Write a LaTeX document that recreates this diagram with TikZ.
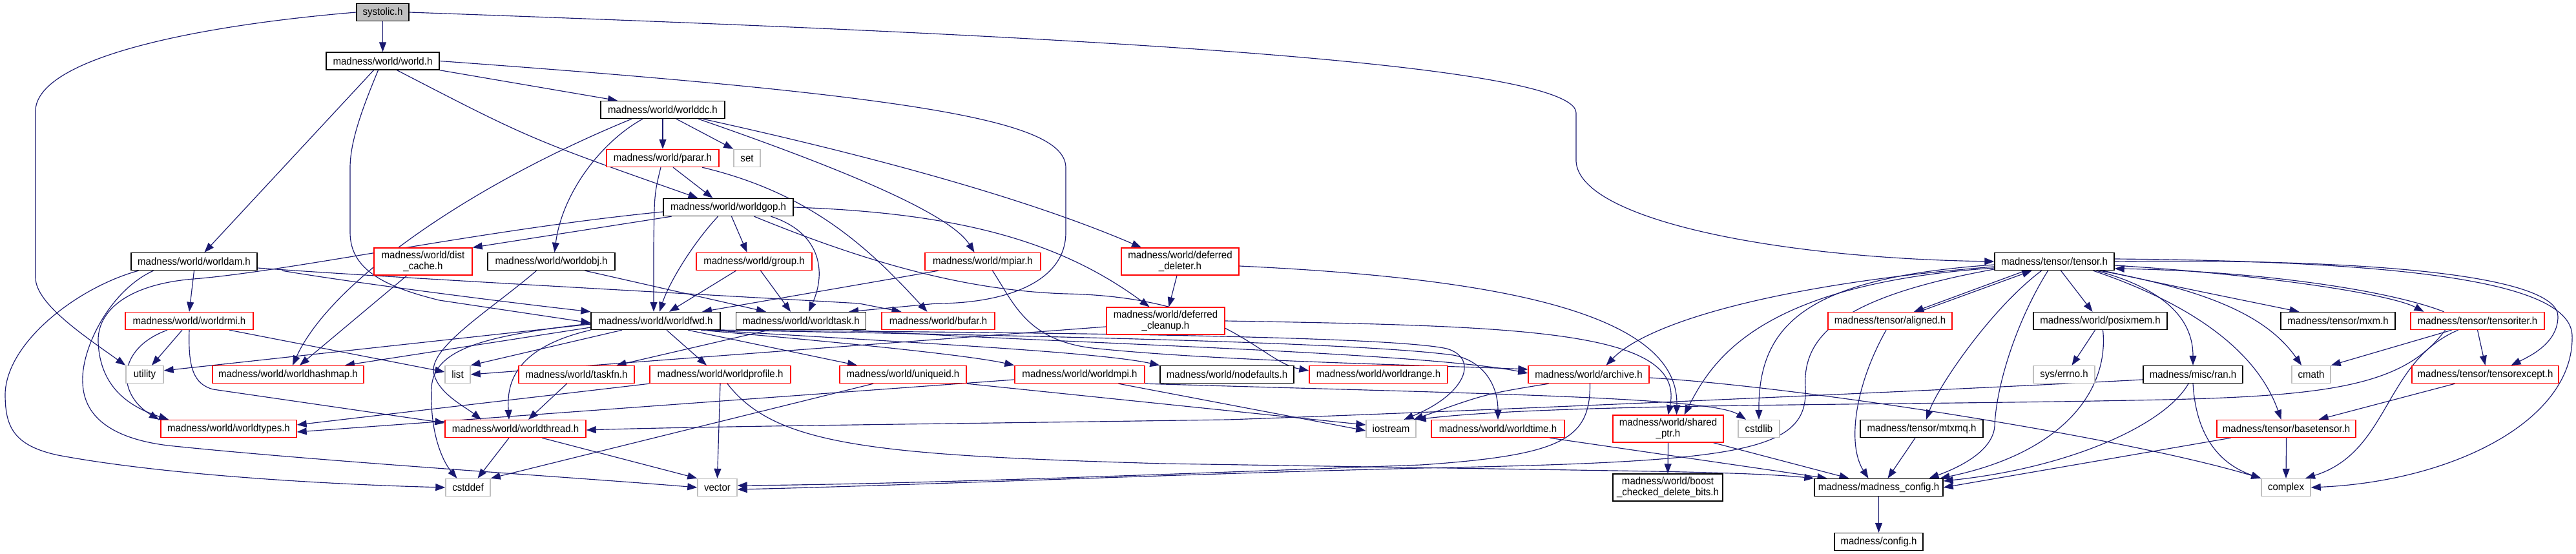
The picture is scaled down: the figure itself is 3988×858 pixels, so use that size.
\documentclass[tikz,border=0pt]{standalone}
\usepackage{fontspec}
\setmainfont{Liberation Sans}[FakeStretch=0.94]
\usetikzlibrary{arrows.meta,backgrounds}
\definecolor{edgec}{HTML}{191970}
\definecolor{redb}{HTML}{FF0000}
\definecolor{grayb}{HTML}{BFBFBF}
\begin{document}
\begin{tikzpicture}[x=1pt,y=-1pt,
  box/.style={draw, line width=1.4pt, fill=white, inner sep=0pt, minimum height=27pt, align=center, font=\fontsize{16}{16.5}\selectfont},
  nb/.style={box, draw=black},
  nr/.style={box, draw=redb},
  ng/.style={box, draw=grayb},
  two/.style={minimum height=42pt},
  lnk/.style={draw=edgec, line width=1.15pt, -{Triangle[length=15pt,width=11pt]}}]
\useasboundingbox (0,0) rectangle (3988,858);
% row 1-5
\node[nb, fill=grayb, minimum width=81pt] (S) at (592.5,19) {systolic.h};
\node[nb, minimum width=175pt] (W) at (592.5,94.5) {madness/world/world.h};
\node[nb, minimum width=192pt] (DC) at (1026,170) {madness/world/worlddc.h};
\node[nr, minimum width=174pt] (P) at (1026,245) {madness/world/parar.h};
\node[ng, minimum width=41pt] (SET) at (1156.5,245) {set};
\node[nb, minimum width=201pt] (G) at (1127.5,321) {madness/world/worldgop.h};
% row 405
\node[nb, minimum width=195pt] (AM) at (300.5,405) {madness/world/worldam.h};
\node[nr, two, minimum width=152pt] (DCA) at (655,405) {madness/world/dist\\\_cache.h};
\node[nb, minimum width=197pt] (OBJ) at (853.5,405) {madness/world/worldobj.h};
\node[nr, minimum width=179pt] (GRP) at (1167.5,405) {madness/world/group.h};
\node[nr, minimum width=179pt] (MPIAR) at (1521.5,405) {madness/world/mpiar.h};
\node[nr, two, minimum width=182pt] (DD) at (1827,405) {madness/world/deferred\\\_deleter.h};
\node[nb, minimum width=185pt] (TEN) at (3180.5,405) {madness/tensor/tensor.h};
% row 497
\node[nr, minimum width=198pt] (RMI) at (293,497) {madness/world/worldrmi.h};
\node[nb, minimum width=200pt] (F) at (1015,497) {madness/world/worldfwd.h};
\node[nb, minimum width=201pt] (TASK) at (1240,497) {madness/world/worldtask.h};
\node[nr, minimum width=175pt] (BUF) at (1452.5,497) {madness/world/bufar.h};
\node[nr, two, minimum width=183pt] (DCL) at (1804.5,497) {madness/world/deferred\\\_cleanup.h};
\node[nr, minimum width=192pt] (ALI) at (2926,497) {madness/tensor/aligned.h};
\node[nb, minimum width=207pt] (POS) at (3251.5,497) {madness/world/posixmem.h};
\node[nb, minimum width=177pt] (MXM) at (3619.5,497) {madness/tensor/mxm.h};
\node[nr, minimum width=207pt] (TIT) at (3835.5,497) {madness/tensor/tensoriter.h};
% row 580
\node[ng, minimum width=58pt] (UT) at (224,580) {utility};
\node[nr, minimum width=234pt] (HM) at (446,580) {madness/world/worldhashmap.h};
\node[ng, minimum width=39pt] (LIST) at (708.5,580) {list};
\node[nr, minimum width=179pt] (TF) at (892.5,580) {madness/world/taskfn.h};
\node[nr, minimum width=218pt] (PROF) at (1115,580) {madness/world/worldprofile.h};
\node[nr, minimum width=196pt] (UID) at (1398,580) {madness/world/uniqueid.h};
\node[nr, minimum width=201pt] (MPI) at (1671.5,580) {madness/world/worldmpi.h};
\node[nb, minimum width=207pt] (NDF) at (1899.5,580) {madness/world/nodefaults.h};
\node[nr, minimum width=214pt] (WR) at (2134,580) {madness/world/worldrange.h};
\node[nr, minimum width=187pt] (AR) at (2459.5,580) {madness/world/archive.h};
\node[ng, minimum width=95pt] (ERR) at (3195.5,580) {sys/errno.h};
\node[nb, minimum width=154pt] (RAN) at (3395,580) {madness/misc/ran.h};
\node[ng, minimum width=60pt] (CM) at (3578,580) {cmath};
\node[nr, minimum width=227pt] (TEX) at (3847.5,580) {madness/tensor/tensorexcept.h};
% row 664
\node[nr, minimum width=210pt] (TY) at (354,664) {madness/world/worldtypes.h};
\node[nr, minimum width=218pt] (TH) at (798,664) {madness/world/worldthread.h};
\node[ng, minimum width=77pt] (IOS) at (2153.5,664) {iostream};
\node[nr, minimum width=206pt] (WT) at (2319,664) {madness/world/worldtime.h};
\node[nr, two, minimum width=171pt] (SP) at (2582.5,664) {madness/world/shared\\\_ptr.h};
\node[ng, minimum width=64pt] (CSL) at (2723,664) {cstdlib};
\node[nb, minimum width=190pt] (MTX) at (2975,664) {madness/tensor/mtxmq.h};
\node[nr, minimum width=215pt] (BT) at (3539.5,664) {madness/tensor/basetensor.h};
% row 755
\node[ng, minimum width=69pt] (CD) at (724.5,755) {cstddef};
\node[ng, minimum width=61pt] (VEC) at (1110.5,755) {vector};
\node[nb, two, minimum width=170pt] (BOOST) at (2582,755) {madness/world/boost\\\_checked\_delete\_bits.h};
\node[nb, minimum width=199pt] (MC) at (2908.5,755) {madness/madness\_config.h};
\node[ng, minimum width=76pt] (CPX) at (3539,755) {complex};
\node[nb, minimum width=137pt] (CONF) at (2908.5,839) {madness/config.h};

\begin{scope}[on background layer]
\fill[white] (0,0) rectangle (3988,858);
% systolic
\draw[lnk] (S.south) -- (W.north);
\draw[lnk] (S.west) .. controls (300,40) and (60,90) .. (55,170) -- (55,430) .. controls (55,470) and (130,520) .. (UT.north west);
\draw[lnk] (S.east) .. controls (1500,50) and (2440,90) .. (2440,175) -- (2440,250) .. controls (2445,340) and (2750,400) .. (TEN.west);
% world.h
\draw[lnk] ([xshift=-14pt]W.south) -- ([xshift=16pt]AM.north);
\draw[lnk] ([xshift=-7pt]W.south) .. controls (560,170) and (542,220) .. (542,260) -- (542,360) .. controls (542,420) and (600,445) .. (680,465) -- ([yshift=-3pt]F.west);
\draw[lnk] ([xshift=22pt]W.south) .. controls (820,215) .. ([xshift=-47pt]G.north);
\draw[lnk] (W.south east) -- ([xshift=-70pt]DC.north);
\draw[lnk] (W.east) .. controls (1450,150) and (1650,190) .. (1650,260) -- (1650,360) .. controls (1650,440) and (1550,470) .. (1450,470) -- ([xshift=74pt]TASK.north);
% worlddc
\draw[lnk] ([xshift=-48pt]DC.south) .. controls (720,290) and (510,440) .. ([xshift=7pt]HM.north);
\draw[lnk] ([xshift=-31pt]DC.south) .. controls (930,220) and (870,300) .. ([xshift=5pt]OBJ.north);
\draw[lnk] (DC.south) -- (P.north);
\draw[lnk] ([xshift=21pt]DC.south) -- (SET.north west);
\draw[lnk] ([xshift=55pt]DC.south) .. controls (1300,260) and (1470,330) .. ([xshift=-13pt]MPIAR.north);
\draw[lnk] ([xshift=62pt]DC.south) .. controls (1250,220) and (1550,290) .. ([xshift=-60pt]DD.north);
% parar
\draw[lnk] ([xshift=-3pt]P.south) .. controls (1013,300) .. (1012,380) -- ([xshift=-3pt]F.north);
\draw[lnk] ([xshift=16pt]P.south) -- ([xshift=-24pt]G.north);
\draw[lnk] ([xshift=61pt]P.south) .. controls (1260,300) and (1350,390) .. ([xshift=-17pt]BUF.north);
% worldgop
\draw[lnk] ([xshift=-88pt]G.south) -- (DCA.north east);
\draw[lnk] ([xshift=-16pt]G.south) .. controls (1070,380) and (1035,440) .. ([xshift=6pt]F.north);
\draw[lnk] ([xshift=5pt]G.south) -- ([xshift=-11pt]GRP.north);
\draw[lnk] ([xshift=66pt]G.south) .. controls (1270,360) and (1280,420) .. ([xshift=12pt]TASK.north);
\draw[lnk] (G.east) .. controls (1500,330) and (1650,380) .. ([xshift=-25pt]DCL.north);
\draw[lnk] ([yshift=-7pt]G.west) .. controls (750,355) and (450,420) .. (300,432) .. controls (200,440) and (150,480) .. (152,530) .. controls (155,600) and (200,630) .. ([xshift=-93pt]TY.north);
\draw[lnk] ([xshift=40pt]G.south) .. controls (1350,410) and (1500,450) .. (1650,455) .. controls (1900,460) and (1950,560) .. ([yshift=6pt]WR.west);
% worldam
\draw[lnk] (AM.south) -- (RMI.north);
\draw[lnk] ([xshift=-86pt]AM.south) .. controls (120,445) and (10,530) .. (8,610) .. controls (8,660) and (20,690) .. (90,705) .. controls (250,735) and (500,750) .. (CD.west);
\draw[lnk] ([xshift=-63pt]AM.south) .. controls (170,450) and (125,540) .. (128,593) .. controls (130,650) and (180,680) .. (260,690) .. controls (500,715) and (900,740) .. (VEC.west);
\draw[lnk] ([yshift=-10pt]AM.east) .. controls (600,430) and (1250,465) .. (1330,470) -- ([xshift=-57pt]BUF.north);
\draw[lnk] ([xshift=136pt]AM.south) .. controls (560,440) and (800,470) .. (F.north west);
% dist_cache, worldobj, group, mpiar
\draw[lnk] ([xshift=-25pt]DCA.south) -- ([xshift=18pt]HM.north);
\draw[lnk] ([xshift=52pt]OBJ.south) -- ([xshift=-54pt]TASK.north);
\draw[lnk] ([xshift=-23pt]OBJ.south) .. controls (760,480) and (660,540) .. (672,580) .. controls (680,610) and (720,630) .. ([xshift=-53pt]TH.north);
\draw[lnk] ([xshift=-28pt]GRP.south) -- ([xshift=21pt]F.north);
\draw[lnk] ([xshift=10pt]GRP.south) -- ([xshift=-16pt]TASK.north);
\draw[lnk] ([xshift=-69pt]MPIAR.south) .. controls (1380,432) .. ([xshift=72pt]F.north);
\draw[lnk] ([xshift=15pt]MPIAR.south) .. controls (1570,470) and (1590,530) .. (1700,540) .. controls (1900,560) and (2200,565) .. ([yshift=8pt]AR.west);
% deferred
\draw[lnk] ([xshift=-5pt]DD.south) -- ([xshift=5pt]DCL.north);
\draw[lnk] ([yshift=-7pt]DD.east) .. controls (2300,430) and (2600,480) .. ([xshift=13pt]SP.north);
\draw[lnk] (DCL.east) .. controls (2350,505) and (2610,510) .. (SP.north);
\draw[lnk] ([yshift=-9pt]DCL.west) -- (LIST.east);
% worldrmi
\draw[lnk] ([xshift=-34pt]RMI.south) .. controls (180,540) and (180,610) .. ([xshift=-108pt]TY.north);
\draw[lnk] ([xshift=-11pt]RMI.south) -- ([xshift=11pt]UT.north);
\draw[lnk] (RMI.south) .. controls (291,570) and (300,595) .. (330,603) -- ([yshift=9pt]TH.west);
\draw[lnk] ([xshift=62pt]RMI.south) -- ([yshift=4pt]LIST.west);
% worldfwd
\draw[lnk] ([yshift=-5pt]F.west) -- ([yshift=6pt]UT.east);
\draw[lnk] ([yshift=-10pt]F.west) -- ([xshift=88pt]HM.north);
\draw[lnk] ([xshift=-52pt]F.south) -- (LIST.north east);
\draw[lnk] (F.south west) .. controls (790,540) and (785,600) .. ([xshift=-10pt]TH.north);
\draw[lnk] ([yshift=-4pt]F.west) .. controls (750,520) and (672,540) .. (668,600) .. controls (665,680) and (690,720) .. ([xshift=-17pt]CD.north);
\draw[lnk] ([xshift=17pt]F.south) -- ([xshift=-21pt]PROF.north);
\draw[lnk] ([xshift=50pt]F.south) -- ([xshift=-71pt]UID.north);
\draw[lnk] ([xshift=70pt]F.south) .. controls (1300,530) and (1500,550) .. (MPI.north west);
\draw[lnk] ([xshift=80pt]F.south) .. controls (1400,530) and (1700,545) .. (NDF.north west);
\draw[lnk] ([xshift=90pt]F.south) .. controls (1600,515) and (2150,520) .. (2240,540) .. controls (2290,555) and (2270,610) .. ([xshift=20pt]IOS.north);
\draw[lnk] (F.south east) .. controls (1600,520) and (2100,530) .. (2250,550) .. controls (2300,560) and (2319,600) .. (WT.north);
% worldtask
\draw[lnk] ([xshift=-50pt]TASK.south) -- ([xshift=62pt]TF.north);
\draw[lnk] ([xshift=80pt]TASK.south) .. controls (1600,530) and (2200,545) .. ([yshift=2pt]AR.west);
% row 580 sources
\draw[lnk] ([xshift=-15pt]TF.south) -- ([xshift=20pt]TH.north);
\draw[lnk] (PROF.south west) -- ([yshift=6pt]TY.east);
\draw[lnk] (PROF.south) -- (VEC.north);
\draw[lnk] ([xshift=11pt]PROF.south) .. controls (1200,690) and (1350,705) .. (1800,718) -- (2500,729) .. controls (2700,732) and (2760,736) .. (MC.north west);
\draw[lnk] ([xshift=-46pt]UID.south) -- (CD.north east);
\draw[lnk] (UID.south east) -- ([yshift=6pt]IOS.west);
\draw[lnk] ([yshift=-8pt]MPI.west) -- ([yshift=-5pt]TY.east);
\draw[lnk] ([xshift=60pt]MPI.south) -- ([yshift=-3pt]IOS.west);
\draw[lnk] (MPI.south east) .. controls (2300,610) and (2650,615) .. ([xshift=-20pt]CSL.north);
\draw[lnk] ([xshift=-10pt]TH.south) -- ([xshift=15pt]CD.north);
\draw[lnk] ([xshift=41pt]TH.south) -- (VEC.north west);
% archive
\draw[lnk] ([xshift=-62pt]AR.south) .. controls (2300,610) .. ([xshift=35pt]IOS.north);
\draw[lnk] ([xshift=2pt]AR.south) .. controls (2462,680) and (2420,705) .. (2200,720) .. controls (1800,735) and (1400,750) .. ([yshift=3pt]VEC.east);
\draw[lnk] ([yshift=-5pt]AR.east) .. controls (2800,600) and (3300,680) .. (CPX.north west);
\draw[lnk] ([xshift=80pt]WT.south) -- ([xshift=-80pt]MC.north);
\draw[lnk] (SP.south) -- (BOOST.north);
\draw[lnk] ([xshift=70pt]SP.south) -- ([xshift=-46pt]MC.north);
% tensor
\draw[lnk] ([xshift=-45pt]TEN.south) -- ([xshift=37pt]ALI.north);
\draw[lnk] ([xshift=45pt]ALI.north) -- ([xshift=-35pt]TEN.south);
\draw[lnk] ([xshift=10pt]TEN.south) -- ([xshift=-12pt]POS.north);
\draw[lnk] ([xshift=75pt]TEN.south) .. controls (3350,440) .. ([xshift=-60pt]MXM.north);
\draw[lnk] ([yshift=-6pt]TEN.east) .. controls (3500,425) and (3700,455) .. ([xshift=-83pt]TIT.north);
\draw[lnk] ([xshift=-52pt]TIT.north) .. controls (3700,450) and (3500,420) .. ([yshift=-11pt]TEN.east);
\draw[lnk] ([xshift=70pt]TEN.south) .. controls (3420,450) and (3510,490) .. ([xshift=-15pt]CM.north);
\draw[lnk] ([xshift=65pt]TEN.south) .. controls (3360,450) and (3395,500) .. (RAN.north);
\draw[lnk] ([xshift=60pt]TEN.south) .. controls (3420,480) and (3500,560) .. ([xshift=-8pt]BT.north);
\draw[lnk] (TEN.east) .. controls (3700,400) and (3960,430) .. (3960,490) .. controls (3960,530) and (3920,550) .. ([xshift=40pt]TEX.north);
\draw[lnk] ([yshift=4pt]TEN.east) .. controls (3750,405) and (3980,440) .. (3982,520) .. controls (3985,650) and (3800,745) .. (CPX.east);
\draw[lnk] ([xshift=-20pt]TEN.south) .. controls (3080,480) and (3000,600) .. ([xshift=7pt]MTX.north);
\draw[lnk] ([xshift=-10pt]TEN.south) .. controls (3120,500) and (3090,600) .. (3088,660) .. controls (3085,700) and (3030,725) .. ([xshift=78pt]MC.north);
\draw[lnk] ([yshift=-5pt]TEN.west) .. controls (2800,430) and (2722,500) .. (CSL.north);
\draw[lnk] ([yshift=-8pt]TEN.west) .. controls (2750,440) and (2550,500) .. ([xshift=27pt]AR.north);
\draw[lnk] ([yshift=-10pt]TEN.west) .. controls (2720,440) and (2650,560) .. ([xshift=25pt]SP.north);
\draw[lnk] ([yshift=-12pt]TEN.west) .. controls (2850,460) and (2790,520) .. (2795,600) .. controls (2800,700) and (2700,715) .. (2200,725) .. controls (1800,735) and (1400,752) .. ([yshift=-3pt]VEC.east);
% right cluster
\draw[lnk] ([xshift=-50pt]TIT.south) .. controls (3720,600) and (3600,615) .. (3300,620) .. controls (2900,628) and (2400,625) .. (IOS.north east);
\draw[lnk] ([xshift=-6pt]ALI.south) .. controls (2870,600) and (2860,690) .. ([xshift=-16pt]MC.north);
\draw[lnk] ([xshift=-8pt]POS.south) -- ([xshift=12pt]ERR.north);
\draw[lnk] ([xshift=4pt]POS.south) .. controls (3265,600) and (3200,700) .. ([xshift=95pt]MC.north);
\draw[lnk] ([xshift=-10pt]MTX.south) -- ([xshift=14pt]MC.north);
\draw[lnk] ([xshift=-7pt]RAN.south) .. controls (3350,660) and (3200,725) .. ([yshift=10pt]MC.east);
\draw[lnk] (RAN.south) .. controls (3400,680) and (3440,720) .. (CPX.north west);
\draw[lnk] ([yshift=-8pt]RAN.west) .. controls (3000,605) and (2200,640) .. (1900,650) .. controls (1500,656) and (1100,660) .. ([yshift=-2pt]TH.east);
\draw[lnk] (BT.south) -- (CPX.north);
\draw[lnk] ([xshift=-86pt]BT.south) -- (MC.east);
\draw[lnk] ([xshift=-40pt]TIT.south) -- (CM.north east);
\draw[lnk] (TIT.south) -- (TEX.north);
\draw[lnk] ([xshift=-30pt]TIT.south) .. controls (3690,560) and (3700,700) .. ([xshift=30pt]CPX.north);
\draw[lnk] ([xshift=-47pt]TEX.south) -- ([xshift=50pt]BT.north);
\draw[lnk] (MC.south) -- (CONF.north);
\end{scope}
\end{tikzpicture}
\end{document}
